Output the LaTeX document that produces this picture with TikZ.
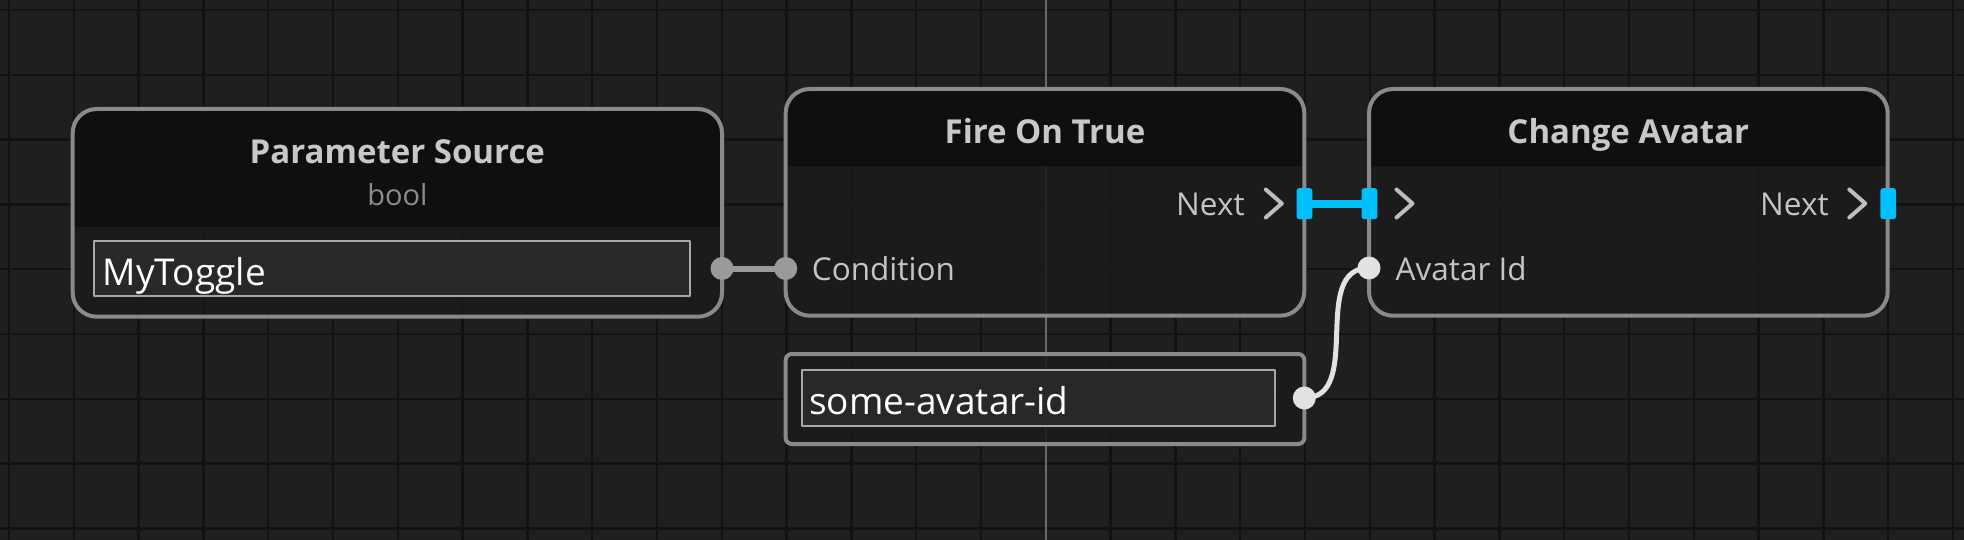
\documentclass[tikz,border=0pt]{standalone}
\usepackage{fontspec}
\setmainfont{Open Sans}
\definecolor{bg}{HTML}{1F1F1F}
\definecolor{gridcol}{HTML}{121212}
\definecolor{axiscol}{HTML}{6A6A6A}
\definecolor{nodeborder}{HTML}{8A8A8A}
\definecolor{nodehead}{HTML}{0F0F0F}
\definecolor{nodebody}{HTML}{1B1B1B}
\definecolor{fieldfill}{HTML}{282828}
\definecolor{fieldborder}{HTML}{A8A8A8}
\definecolor{titlecol}{HTML}{C8C8C8}
\definecolor{subcol}{HTML}{8C8C8C}
\definecolor{labelcol}{HTML}{C4C4C4}
\definecolor{chevcol}{HTML}{BDBDBD}
\definecolor{execblue}{HTML}{00BFFF}
\definecolor{boolcol}{HTML}{9A9A9A}
\definecolor{strcol}{HTML}{E2E2E2}
\begin{document}
\begin{tikzpicture}[x=1pt,y=-1pt,line join=round,
  gridline/.style={draw=gridcol,line width=2.5pt},
  axisline/.style={draw=axiscol,line width=2pt},
  graphnode/.style={draw=nodeborder,line width=4pt,rounded corners=24pt,fill=nodebody,fill opacity=0.88,inner sep=0pt,outer sep=0pt},
  valuenode/.style={draw=nodeborder,line width=4pt,rounded corners=6pt,fill=nodebody,fill opacity=0.88,inner sep=0pt,outer sep=0pt},
  hdr/.style={path picture={\fill[nodehead,fill opacity=1,sharp corners] (path picture bounding box.north west) rectangle ([yshift=-#1]path picture bounding box.north east);}},
  fieldbox/.style={draw=fieldborder,line width=2pt,fill=fieldfill,inner sep=0pt,outer sep=0pt},
  titletext/.style={text=titlecol,font=\fontsize{33}{40}\selectfont\bfseries,inner sep=0pt,anchor=base},
  subtext/.style={text=subcol,font=\fontsize{29}{35}\selectfont,inner sep=0pt,anchor=base},
  labeltext/.style={text=labelcol,font=\fontsize{31.5}{38}\selectfont,inner sep=0pt,anchor=base west},
  fieldtext/.style={text=white,font=\fontsize{37}{44}\selectfont,inner sep=0pt,anchor=base west},
  dotport/.style={circle,inner sep=0pt,outer sep=0pt,minimum size=23pt,fill=#1},
  execport/.style={rectangle,rounded corners=2.5pt,minimum width=15.6pt,minimum height=31pt,inner sep=0pt,outer sep=0pt,fill=execblue},
  chevron/.style={draw=chevcol,line width=4pt,line cap=round,line join=round},
  boolwire/.style={draw=boolcol,line width=6pt},
  strwire/.style={draw=strcol,line width=5pt},
  execwire/.style={draw=execblue,line width=8pt}
]
\useasboundingbox (0,0) rectangle (1964,540);
\fill[bg] (0,0) rectangle (1964,540);
\foreach \i in {0,...,30} \draw[gridline] ({9+64.8*\i},0) -- ({9+64.8*\i},540);
\foreach \j in {0,...,8} \draw[gridline] (0,{10+64.8*\j}) -- (1964,{10+64.8*\j});
\draw[axisline] (1045.8,0) -- (1045.8,540);

% node boxes
\node[graphnode,hdr=117.7pt,minimum width=649.3pt,minimum height=207.7pt] (ps) at (397.35,212.85) {};
\node[graphnode,hdr=76.7pt,minimum width=518.6pt,minimum height=226.7pt] (fot) at (1045,202.35) {};
\node[graphnode,hdr=76.7pt,minimum width=518.7pt,minimum height=226.7pt] (ca) at (1628.35,202.35) {};
\node[valuenode,minimum width=518.6pt,minimum height=90pt] (av) at (1045,399) {};

% text fields
\node[fieldbox,minimum width=596.3pt,minimum height=55pt] (psfield) at (391.85,268.5) {};
\node[fieldbox,minimum width=473pt,minimum height=56pt] (avfield) at (1038.5,398) {};

% titles
\node[titletext] (pstitle) at (397.35,164) {Parameter Source};
\node[subtext] (pssub) at (397.35,205) {bool};
\node[titletext] (fottitle) at (1045,144) {Fire On True};
\node[titletext] (catitle) at (1628.35,144) {Change Avatar};

% field texts
\node[fieldtext] (pstext) at (102.7,285) {MyToggle};
\node[fieldtext] (avtext) at (809,414.5) {some-avatar-id};

% labels
\node[labeltext] (fotnext) at (1176,215.7) {Next};
\node[labeltext] (fotcondlbl) at (811.7,280) {Condition};
\node[labeltext] (canext) at (1760,215.7) {Next};
\node[labeltext] (caidlbl) at (1395.5,280) {Avatar Id};

% chevrons
\draw[chevron] (1265.8,189.5) -- (1281.8,203.5) -- (1265.8,217.5);
\draw[chevron] (1396.5,189.5) -- (1412.5,203.5) -- (1396.5,217.5);
\draw[chevron] (1849.3,189.5) -- (1865.3,203.5) -- (1849.3,217.5);

% ports
\node[dotport=boolcol] (psout) at (722,268.5) {};
\node[dotport=boolcol] (fotcond) at (785.7,268.5) {};
\node[dotport=strcol] (caid) at (1369,268) {};
\node[dotport=strcol] (avout) at (1304.3,398) {};
\node[execport] (fotout) at (1304.5,203.7) {};
\node[execport] (cain) at (1369.5,203.7) {};
\node[execport] (caout) at (1888.2,203.7) {};

% wires
\draw[boolwire] (psout.center) -- (fotcond.center);
\draw[strwire] (avout.center) .. controls +(60,0) and +(-60,0) .. (caid.center);
\draw[execwire] (fotout.center) -- (cain.center);
\end{tikzpicture}
\end{document}
